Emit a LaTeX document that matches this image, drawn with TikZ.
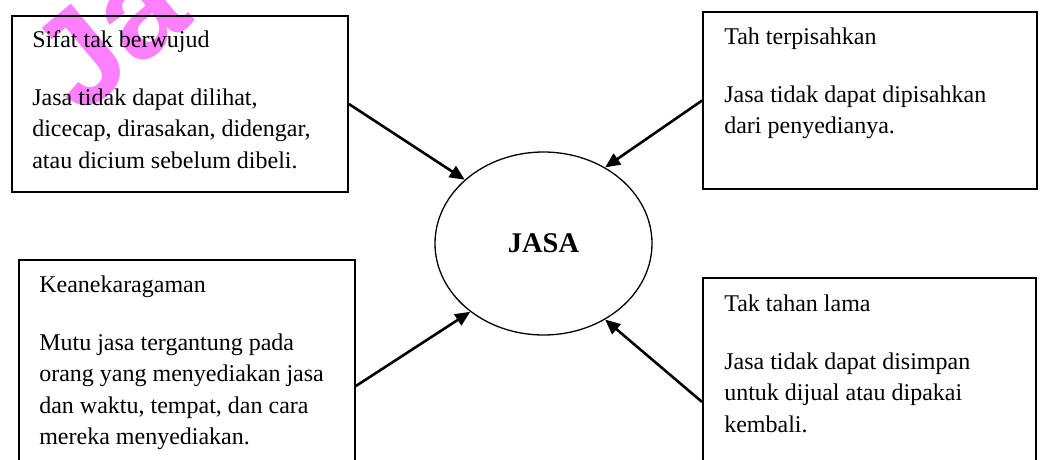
\documentclass[tikz,border=0pt]{standalone}
\usepackage{fontspec}
\setmainfont{Liberation Serif}
\newfontfamily\wmfont{Liberation Sans}
\usepackage{tikz}
\usetikzlibrary{shapes,arrows.meta}
\usetikzlibrary{positioning}
\definecolor{wmpink}{RGB}{255,128,255}
\tikzstyle{line} = [draw, -{Triangle[length=15pt,width=13pt]}, line width=2.6pt]
\tikzstyle{box} = [draw, rectangle, line width=1.8pt, inner sep=0pt]

\begin{document}
\begin{tikzpicture}[x=1pt, y=1pt,
	txt/.style={align=left, inner sep=0pt,
		font=\fontsize{24}{31.5}\selectfont},
	jasa/.style={draw, ellipse, line width=1.3pt, minimum width=217pt,
		minimum height=183pt, font=\fontsize{28.5}{30}\selectfont\bfseries}]
    \useasboundingbox (0,0) rectangle (1043,459);
    %% Watermark
    \node [rotate=40, anchor=base west, text=wmpink, inner sep=0pt,
        font=\wmfont\bfseries\fontsize{135}{135}\selectfont] (wm) at (80,341) {Ja};
    %% Centre
    \node [jasa] (J) at (543.5,215.5) {JASA};
    %% Boxes
    \node [box, minimum width=336pt, minimum height=176pt] (B1) at (180,355) {};
    \node [box, minimum width=334pt, minimum height=177pt] (B2) at (870,358.5) {};
    \node [box, minimum width=336pt, minimum height=252pt] (B3) at (187,73) {};
    \node [box, minimum width=333pt, minimum height=248pt] (B4) at (869.5,57) {};
    \node [txt, below right=10pt and 21pt of B1.north west] (T1)
        {\strut Sifat tak berwujud\\[26.5pt]Jasa tidak dapat dilihat,\\dicecap, dirasakan, didengar,\\atau dicium sebelum dibeli.};
    \node [txt, below right=11pt and 22pt of B2.north west] (T2)
        {\strut Tah terpisahkan\\[26.5pt]Jasa tidak dapat dipisahkan\\dari penyedianya.};
    \node [txt, below right=11pt and 21pt of B3.north west] (T3)
        {\strut Keanekaragaman\\[26.5pt]Mutu jasa tergantung pada\\orang yang menyediakan jasa\\dan waktu, tempat, dan cara\\mereka menyediakan.};
    \node [txt, below right=12pt and 22pt of B4.north west] (T4)
        {\strut Tak tahan lama\\[26.5pt]Jasa tidak dapat disimpan\\untuk dijual atau dipakai\\kembali.};
	%% Arrows
    \path [line] (B1.east) to (J.141);
    \path [line] (B2.west) to (J.51);
    \path [line] (B3.east) to (J.223);
    \path [line] (B4.west) to (J.309);
\end{tikzpicture}
\end{document}
